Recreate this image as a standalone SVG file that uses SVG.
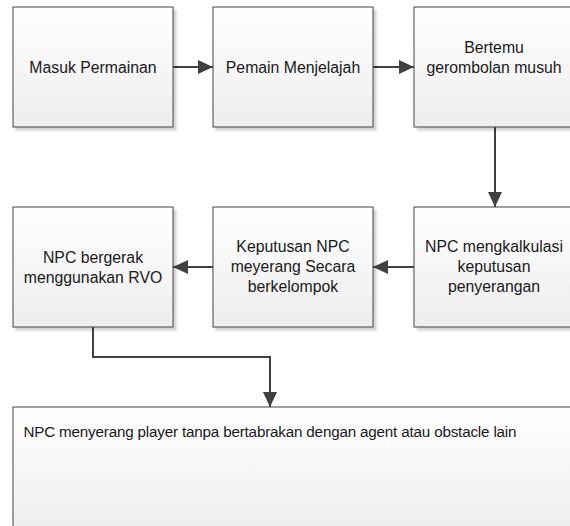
<svg xmlns="http://www.w3.org/2000/svg" width="570" height="526" viewBox="0 0 570 526">
<style>
.box{fill:url(#g);stroke:#454545;stroke-width:1;filter:url(#sh)}
.t{font-family:"Liberation Sans",Arial,sans-serif;font-size:15.8px;fill:#1a1a1a;text-anchor:middle}
.c{fill:none;stroke:#404040;stroke-width:2;marker-end:url(#ah)}
</style>
<defs>
<linearGradient id="g" x1="0" y1="0" x2="0" y2="1">
<stop offset="0" stop-color="#ffffff"/>
<stop offset="1" stop-color="#ededed"/>
</linearGradient>
<filter id="sh" x="-10%" y="-10%" width="130%" height="130%">
<feDropShadow dx="3" dy="3" stdDeviation="1.2" flood-color="#000" flood-opacity="0.18"/>
</filter>
<marker id="ah" markerUnits="userSpaceOnUse" markerWidth="16" markerHeight="14" refX="15" refY="7" orient="auto">
<path d="M0,0 L15,7 L0,14 z" fill="#404040"/>
</marker>
</defs>
<g id="connectors">
<path class="c" d="M173,67 H213"/>
<path class="c" d="M373,67 H414"/>
<path class="c" d="M495,127 V207"/>
<path class="c" d="M414,267 H373"/>
<path class="c" d="M213,267 H173"/>
<path class="c" d="M93,327 V357 H270 V407"/>
</g>
<g id="n1"><rect class="box" x="13" y="7" width="160" height="120"/><text class="t" x="93" y="73">Masuk Permainan</text></g>
<g id="n2"><rect class="box" x="213" y="7" width="160" height="120"/><text class="t" x="293" y="73">Pemain Menjelajah</text></g>
<g id="n3"><rect class="box" x="414" y="7" width="160" height="120"/><text class="t" x="494" y="53">Bertemu</text><text class="t" x="494" y="73">gerombolan musuh</text></g>
<g id="n4"><rect class="box" x="13" y="207" width="160" height="120"/><text class="t" x="93" y="263">NPC bergerak</text><text class="t" x="93" y="283">menggunakan RVO</text></g>
<g id="n5"><rect class="box" x="213" y="207" width="160" height="120"/><text class="t" x="293" y="252">Keputusan NPC</text><text class="t" x="293" y="272">meyerang Secara</text><text class="t" x="293" y="292">berkelompok</text></g>
<g id="n6"><rect class="box" x="414" y="207" width="160" height="120"/><text class="t" x="494" y="252">NPC mengkalkulasi</text><text class="t" x="494" y="272">keputusan</text><text class="t" x="494" y="292">penyerangan</text></g>
<g id="n7"><rect class="box" x="13" y="407" width="570" height="130"/><text class="t" x="270" y="437" style="font-size:15.2px" textLength="493" lengthAdjust="spacing">NPC menyerang player tanpa bertabrakan dengan agent atau obstacle lain</text></g>
</svg>
